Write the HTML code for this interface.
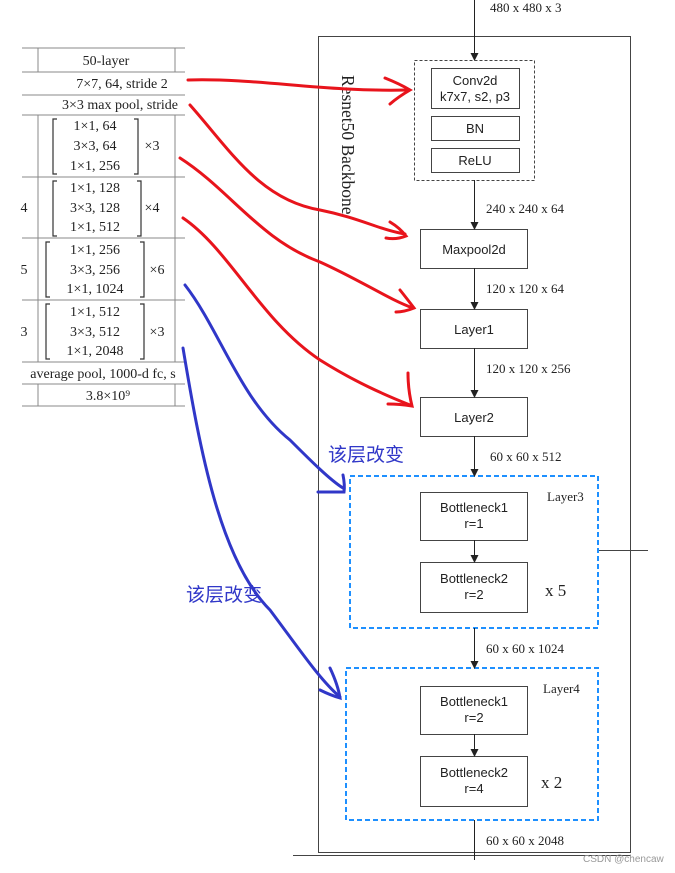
<!DOCTYPE html>
<html><head><meta charset="utf-8"><style>
body{margin:0;background:#fff;width:675px;height:873px;overflow:hidden}
svg{display:block}
.s{font-family:"Liberation Serif",serif;font-size:13px;fill:#222}
.tb{font-family:"Liberation Serif",serif;font-size:14px;fill:#222}
.a{font-family:"Liberation Sans",sans-serif;font-size:13px;fill:#222}
.t{font-family:"Liberation Serif",serif;font-size:14px;fill:#222}
</style></head><body>
<svg width="675" height="873" viewBox="0 0 675 873">
<defs>
<marker id="m" markerWidth="8" markerHeight="8" refX="7" refY="4" orient="auto" markerUnits="userSpaceOnUse"><path d="M0,0 L8,4 L0,8 z" fill="#222"/></marker></defs>
<!-- table -->
<g stroke="#888" stroke-width="1">
<line x1="22" y1="48" x2="185" y2="48"/><line x1="22" y1="72" x2="185" y2="72"/>
<line x1="22" y1="95" x2="185" y2="95"/><line x1="22" y1="115" x2="185" y2="115"/>
<line x1="22" y1="177" x2="185" y2="177"/><line x1="22" y1="238" x2="185" y2="238"/>
<line x1="22" y1="300" x2="185" y2="300"/><line x1="22" y1="362" x2="185" y2="362"/>
<line x1="22" y1="384" x2="185" y2="384"/><line x1="22" y1="406" x2="185" y2="406"/>
<line x1="38" y1="48" x2="38" y2="72"/><line x1="175" y1="48" x2="175" y2="72"/>
<line x1="38" y1="115" x2="38" y2="362"/><line x1="175" y1="115" x2="175" y2="362"/>
<line x1="38" y1="384" x2="38" y2="406"/><line x1="175" y1="384" x2="175" y2="406"/>
</g>
<g class="tb" text-anchor="middle">
<text x="106" y="65">50-layer</text>
<text x="122" y="88">7×7, 64, stride 2</text>
<text x="120" y="109">3×3 max pool, stride</text>
<text x="95" y="130">1×1, 64</text><text x="95" y="150">3×3, 64</text><text x="95" y="170">1×1, 256</text><text x="152" y="150">×3</text>
<text x="95" y="192">1×1, 128</text><text x="95" y="212">3×3, 128</text><text x="95" y="231">1×1, 512</text><text x="152" y="212">×4</text>
<text x="95" y="254">1×1, 256</text><text x="95" y="274">3×3, 256</text><text x="95" y="293">1×1, 1024</text><text x="157" y="274">×6</text>
<text x="95" y="316">1×1, 512</text><text x="95" y="336">3×3, 512</text><text x="95" y="355">1×1, 2048</text><text x="157" y="336">×3</text>
<text x="103" y="378">average pool, 1000-d fc, s</text>
<text x="108" y="400">3.8×10⁹</text>
<text x="24" y="212">4</text><text x="24" y="274">5</text><text x="24" y="336">3</text>
</g>
<g fill="none" stroke="#333" stroke-width="1.2">
<path d="M57,119 h-4 v55 h4 M134,119 h4 v55 h-4"/>
<path d="M57,181 h-4 v55 h4 M137,181 h4 v55 h-4"/>
<path d="M50,242 h-4 v55 h4 M140,242 h4 v55 h-4"/>
<path d="M50,304 h-4 v55 h4 M140,304 h4 v55 h-4"/>
</g>
<!-- diagram -->
<g fill="none" stroke="#444" stroke-width="1">
<rect x="318.5" y="36.5" width="312" height="816"/>
<line x1="293" y1="855.5" x2="631" y2="855.5"/>
<line x1="598" y1="550.5" x2="648" y2="550.5"/>
<rect x="414.5" y="60.5" width="120" height="120" stroke-dasharray="3,2"/>
<rect x="431.5" y="68.5" width="88" height="40"/>
<rect x="431.5" y="116.5" width="88" height="24"/>
<rect x="431.5" y="148.5" width="88" height="24"/>
<rect x="420.5" y="229.5" width="107" height="39"/>
<rect x="420.5" y="309.5" width="107" height="39"/>
<rect x="420.5" y="397.5" width="107" height="39"/>
<rect x="420.5" y="492.5" width="107" height="48"/>
<rect x="420.5" y="562.5" width="107" height="50"/>
<rect x="420.5" y="686.5" width="107" height="48"/>
<rect x="420.5" y="756.5" width="107" height="50"/>
</g>
<g stroke="#1e90ff" stroke-width="2" fill="none" stroke-dasharray="5,3">
<rect x="350" y="476" width="248" height="152"/>
<rect x="346" y="668" width="252" height="152"/>
</g>
<g stroke="#222" stroke-width="1" marker-end="url(#m)">
<line x1="474.5" y1="0" x2="474.5" y2="60"/>
<line x1="474.5" y1="180" x2="474.5" y2="229"/>
<line x1="474.5" y1="268" x2="474.5" y2="309"/>
<line x1="474.5" y1="348" x2="474.5" y2="397"/>
<line x1="474.5" y1="436" x2="474.5" y2="476"/>
<line x1="474.5" y1="540" x2="474.5" y2="562"/>
<line x1="474.5" y1="628" x2="474.5" y2="668"/>
<line x1="474.5" y1="734" x2="474.5" y2="756"/>
</g>
<line x1="474.5" y1="820" x2="474.5" y2="860" stroke="#222"/>
<g class="s">
<text x="490" y="12">480 x 480 x 3</text>
<text x="486" y="213">240 x 240 x 64</text>
<text x="486" y="293">120 x 120 x 64</text>
<text x="486" y="373">120 x 120 x 256</text>
<text x="490" y="461">60 x 60 x 512</text>
<text x="547" y="501">Layer3</text>
<text x="486" y="653">60 x 60 x 1024</text>
<text x="543" y="693">Layer4</text>
<text x="486" y="845">60 x 60 x 2048</text>
</g>
<text x="545" y="596" class="t" style="font-size:17px">x 5</text>
<text x="541" y="788" class="t" style="font-size:17px">x 2</text>
<text transform="translate(342,75) rotate(90)" class="t" style="font-size:17.5px">Resnet50 Backbone</text>
<g class="a" text-anchor="middle">
<text x="475" y="85">Conv2d</text><text x="475" y="101">k7x7, s2, p3</text>
<text x="475" y="133">BN</text><text x="475" y="165">ReLU</text>
<text x="474" y="254">Maxpool2d</text>
<text x="474" y="334">Layer1</text>
<text x="474" y="422">Layer2</text>
<text x="474" y="512">Bottleneck1</text><text x="474" y="528">r=1</text>
<text x="474" y="583">Bottleneck2</text><text x="474" y="599">r=2</text>
<text x="474" y="706">Bottleneck1</text><text x="474" y="722">r=2</text>
<text x="474" y="777">Bottleneck2</text><text x="474" y="793">r=4</text>
</g>
<text x="583" y="862" font-family="Liberation Sans,sans-serif" font-size="10" fill="#999">CSDN @chencaw</text>
<!-- red annotations -->
<g stroke="#e8141c" stroke-width="3" fill="none" stroke-linecap="round">
<path d="M188,80 C260,78 320,92 408,90"/>
<path d="M385,78 Q400,84 410,90 Q398,97 390,104"/>
<path d="M190,105 C230,150 260,200 320,210 C360,218 380,230 405,234"/>
<path d="M390,222 Q400,228 406,236 Q396,240 386,238"/>
<path d="M180,158 C230,190 260,240 320,262 C360,280 390,300 413,308"/>
<path d="M400,290 Q408,300 414,308 Q404,312 396,312"/>
<path d="M183,218 C230,250 260,320 320,360 C355,382 385,395 410,405"/>
<path d="M408,373 Q408,390 412,406 Q400,404 388,404"/>
</g>
<g stroke="#3037c8" stroke-width="3" fill="none" stroke-linecap="round">
<path d="M185,285 C220,330 240,400 290,440 C310,460 330,480 343,488"/>
<path d="M343,475 Q345,485 344,492 Q330,492 318,492"/>
<path d="M183,348 C200,450 220,560 270,610 C300,650 320,680 340,697"/>
<path d="M330,668 Q338,685 340,698 Q330,695 320,690"/>
</g>
<g font-family="Liberation Sans,'Noto Sans CJK SC',sans-serif" font-size="19" fill="#3037c8">
<text x="328" y="461">该层改变</text>
<text x="186" y="601">该层改变</text>
</g>
</svg>
</body></html>
